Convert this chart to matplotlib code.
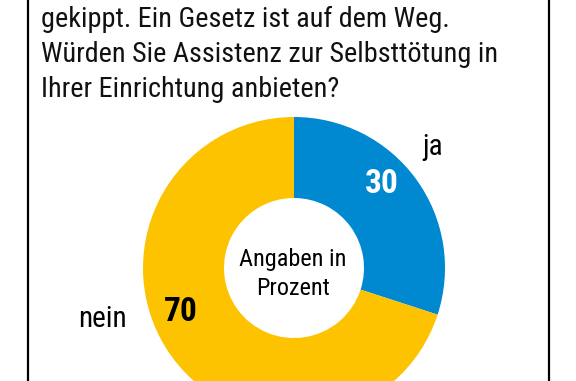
import matplotlib
matplotlib.use("Agg")
import matplotlib.pyplot as plt
from matplotlib import font_manager

# data
labels = ["ja", "nein"]
values = [30, 70]
colors = ["#0088D1", "#FDC300"]
title_lines = [
    "gekippt. Ein Gesetz ist auf dem Weg.",
    "Würden Sie Assistenz zur Selbsttötung in",
    "Ihrer Einrichtung anbieten?",
]
note_lines = ["Angaben in", "Prozent"]

names = {f.name for f in font_manager.fontManager.ttflist}
FONT = next(f for f in ["Roboto Condensed", "Archivo Narrow", "Asap Condensed",
                        "Liberation Sans"] if f in names)

W, H = 576, 381
fig = plt.figure(figsize=(W / 100, H / 100), dpi=100)
ax = fig.add_axes([0, 0, 1, 1])

cx, cy, r_out, r_in = 294, H - 268, 151, 70
ax.pie(values, colors=colors, startangle=90, counterclock=False,
       center=(cx, cy), radius=r_out,
       wedgeprops=dict(width=r_out - r_in, linewidth=0))

ax.set_xlim(0, W)
ax.set_ylim(0, H)
ax.set_aspect("equal")
ax.axis("off")

# frame sides (box continues beyond the crop)
ax.plot([28, 28], [0, H], color="black", lw=1.6, solid_capstyle="butt")
ax.plot([549, 549], [0, H], color="black", lw=1.6, solid_capstyle="butt")

for i, line in enumerate(title_lines):
    ax.text(41, H - (27 + 35 * i), line, fontsize=20.3, family=FONT,
            ha="left", va="baseline", color="#111111")

for i, line in enumerate(note_lines):
    ax.text(cx - 1, H - (266 + 29 * i), line, fontsize=17.5, family=FONT,
            ha="center", va="baseline")

ax.text(382, H - 193, f"{values[0]}", fontsize=24, family=FONT,
        fontweight="bold", color="white", ha="center", va="baseline")
ax.text(181, H - 321, f"{values[1]}", fontsize=24, family=FONT,
        fontweight="bold", color="black", ha="center", va="baseline")
ax.text(433, H - 155, labels[0], fontsize=21, family=FONT,
        ha="center", va="baseline")
ax.text(102, H - 327, labels[1], fontsize=21, family=FONT,
        ha="center", va="baseline")

fig.savefig("out.png", dpi=100)
